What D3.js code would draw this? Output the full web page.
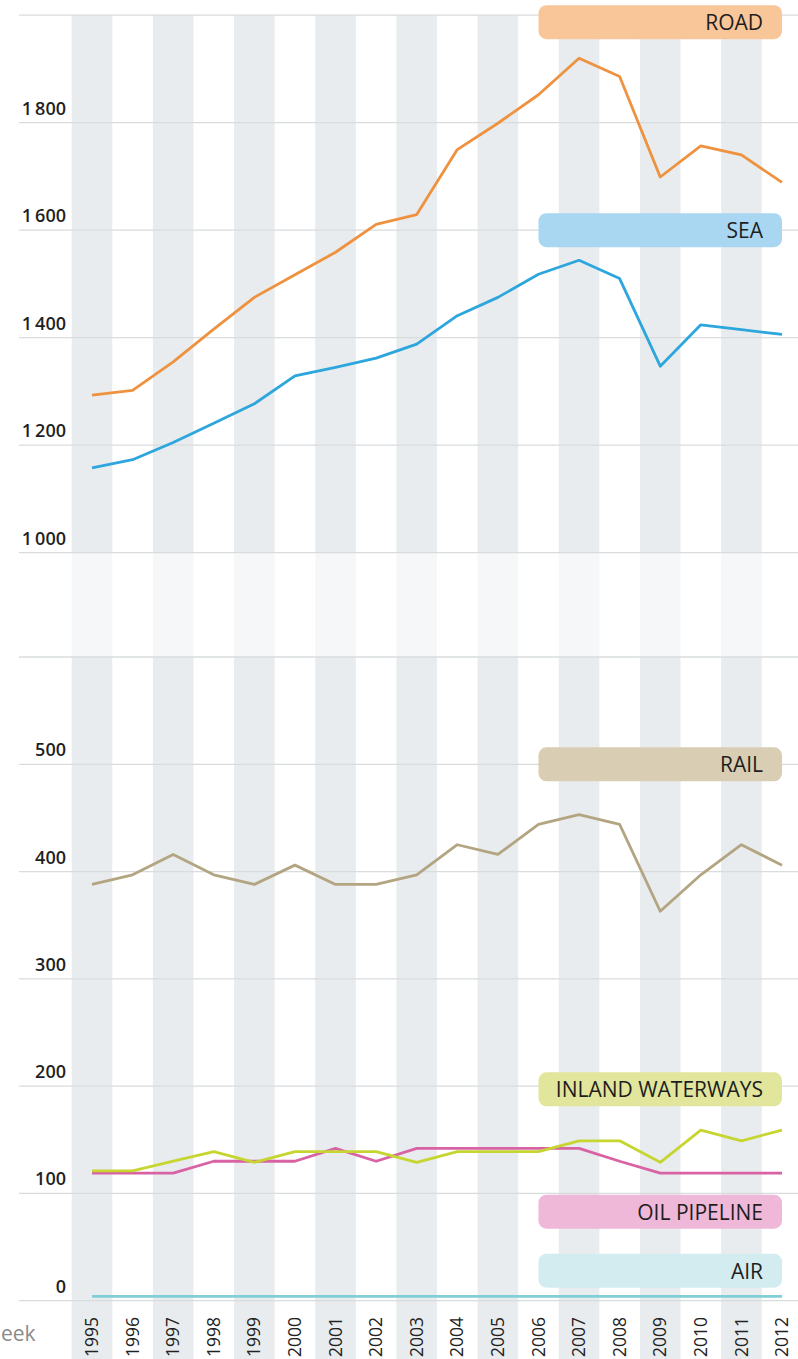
<!DOCTYPE html>
<html><head><meta charset="utf-8">
<script src="https://cdn.jsdelivr.net/npm/d3@7"></script>
<style>
html,body{margin:0;padding:0;background:#fff;}
svg{display:block;}
text{font-family:"Open Sans","Noto Sans",sans-serif;}
</style></head>
<body>
<svg id="chart" width="798" height="1359"></svg>
<script>
const years = [1995,1996,1997,1998,1999,2000,2001,2002,2003,2004,2005,2006,2007,2008,2009,2010,2011,2012];
const road   = [1293,1302,1355,1416,1475,1517,1559,1611,1629,1750,1799,1852,1920,1886,1699,1757,1740,1689];
const sea    = [1158,1173,1205,1241,1277,1329,1345,1362,1388,1441,1475,1518,1544,1510,1347,1424,1415,1406];
const rail   = [388,397,416,397,388,406,388,388,397,425,416,444,453,444,363,397,425,406];
const inland = [121,121,130,139,129,139,139,139,129,139,139,139,149,149,129,159,149,159];
const oil    = [119,119,119,130,130,130,142,130,142,142,142,142,142,130,119,119,119,119];
const air    = [4,4,4,4,4,4,4,4,4,4,4,4,4,4,4,4,4,4];
const topTicks = [1000,1200,1400,1600,1800,2000];
const bottomTicks = [0,100,200,300,400,500,600];
const seriesNames = ["ROAD","SEA","RAIL","INLAND WATERWAYS","OIL PIPELINE","AIR"];

const series = [
  {name:seriesNames[0], values:road,   panel:"top",    labelAt:1987, line:"#ef9240", box:"#f9c699"},
  {name:seriesNames[1], values:sea,    panel:"top",    labelAt:1600, line:"#2ca6dd", box:"#a9d6f1"},
  {name:seriesNames[2], values:rail,   panel:"bottom", labelAt:500,  line:"#b3a581", box:"#d9cdb3"},
  {name:seriesNames[3], values:inland, panel:"bottom", labelAt:197,  line:"#c6d530", box:"#e1e69c"},
  {name:seriesNames[4], values:oil,    panel:"bottom", labelAt:83,   line:"#d862a4", box:"#efb8d9"},
  {name:seriesNames[5], values:air,    panel:"bottom", labelAt:28,   line:"#80cfd5", box:"#d3ecef"}
];

const W = 798, H = 1359;
const svg = d3.select("#chart");
const x = d3.scalePoint().domain(years).range([92, 782]);
const step = x.step();
const yTop = d3.scaleLinear().domain([1000, 2000]).range([552.7, 15.2]);
const yBot = d3.scaleLinear().domain([0, 600]).range([1300.7, 657]);
const scaleOf = p => p === "top" ? yTop : yBot;
const fmt = d3.formatLocale({decimal:".", thousands:"\u2009", grouping:[3], currency:["",""]}).format(",d");

// alternating column stripes
svg.append("g").selectAll("rect").data(years.filter((d,i)=> i % 2 === 0)).join("rect")
  .attr("x", d => x(d) - step/2).attr("width", step)
  .attr("y", yTop(2000)).attr("height", H - yTop(2000))
  .attr("fill", "#e8ecee");

// faded break zone between the two panels
svg.append("rect").attr("x", 0).attr("width", W)
  .attr("y", yTop(1000)).attr("height", yBot(600) - yTop(1000))
  .attr("fill", "#fff").attr("opacity", 0.6);

// gridlines + labels
function grid(scale, ticks, unlabeled) {
  const g = svg.append("g");
  g.selectAll("line").data(ticks).join("line")
    .attr("x1", 19).attr("x2", W)
    .attr("y1", d => scale(d)).attr("y2", d => scale(d))
    .attr("stroke", "#d9dcdd").attr("stroke-width", 1.3);
  g.selectAll("text").data(ticks.filter(d => d !== unlabeled)).join("text")
    .attr("x", 66).attr("y", d => scale(d) - 8)
    .attr("text-anchor", "end")
    .attr("font-size", 18).attr("font-weight", 600).attr("fill", "#1f1f1f")
    .text(d => fmt(d));
}
grid(yTop, topTicks, 2000);
grid(yBot, bottomTicks, 600);

// legend boxes
const lg = svg.append("g");
series.forEach(s => {
  const cy = scaleOf(s.panel)(s.labelAt);
  lg.append("rect")
    .attr("x", x(2006)).attr("width", x(2012) - x(2006))
    .attr("y", cy - 17).attr("height", 34).attr("rx", 8)
    .attr("fill", s.box);
  lg.append("text")
    .attr("x", x(2012) - 19).attr("y", cy).attr("dy", "0.38em")
    .attr("text-anchor", "end").attr("font-size", 21).attr("fill", "#1e1e1e")
    .text(s.name);
});

// lines
series.slice().reverse().forEach(s => {
  const ys = scaleOf(s.panel);
  const line = d3.line().x((d,i) => x(years[i])).y(d => ys(d));
  svg.append("path").datum(s.values)
    .attr("d", line).attr("fill", "none")
    .attr("stroke", s.line).attr("stroke-width", 2.8)
    .attr("stroke-linejoin", "round");
});

// year labels
svg.append("g").selectAll("text").data(years).join("text")
  .attr("transform", d => `translate(${x(d)},1317) rotate(-90)`)
  .attr("dy", "0.35em")
  .attr("text-anchor", "end")
  .attr("font-size", 17.5).attr("font-weight", 500).attr("fill", "#222")
  .text(d => d);

// cut-off source text
svg.append("text").attr("x", 1).attr("y", 1341)
  .attr("text-anchor", "start").attr("font-size", 21).attr("fill", "#8a8a8a")
  .text("eek");
</script>
</body></html>
